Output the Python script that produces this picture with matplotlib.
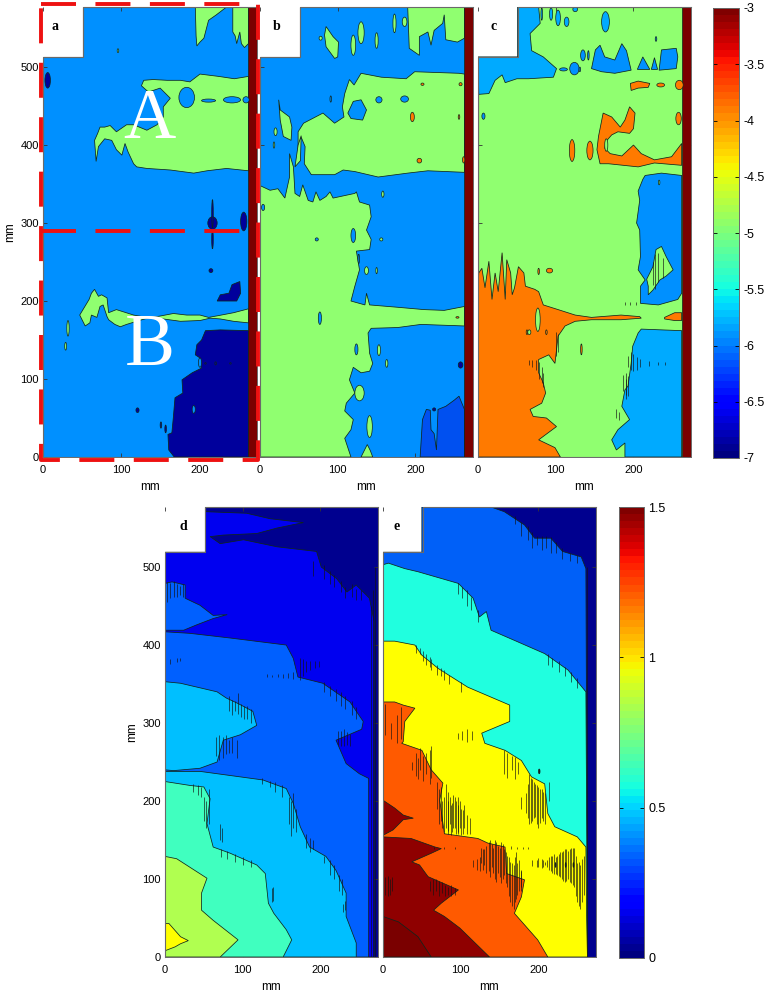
import matplotlib
matplotlib.use('Agg')
import matplotlib.pyplot as plt
from matplotlib.patches import Polygon, Ellipse
from matplotlib.cm import ScalarMappable
from matplotlib.colors import Normalize

plt.rcParams['font.family'] = ['Liberation Sans', 'DejaVu Sans']

xticks = [0, 100, 200]
yticks = [0, 100, 200, 300, 400, 500]
bar_ticks_top = [-7, -6.5, -6, -5.5, -5, -4.5, -4, -3.5, -3]
bar_labels_top = ['-7', '-6.5', '-6', '-5.5', '-5', '-4.5', '-4', '-3.5', '-3']
bar_ticks_low = [0, 0.5, 1, 1.5]
bar_labels_low = ['0', '0.5', '1', '1.5']

# ---- panel a
a_green_top1 = [(195,577),(196,540),(197,527),(201,532),(206,537),(212,560),(222,567),(235,577)]
a_green_top2 = [(243,577),(243,545),(246,540),(248,530),(252,545),(254,530),(258,525),(263,530),(263,577)]
a_green_main = [(263,488),(245,485),(225,488),(201,491),(188,481),(176,483),(159,483),(141,484),(129,483),
                (126,476),(135,468),(150,473),(163,460),(154,449),(154,436),(146,426),(133,419),(116,426),
                (107,426),(94,417),(90,421),(86,425),(79,423),(73,423),(70,415),(66,406),(68,379),(71,398),
                (79,408),(88,406),(94,394),(101,387),(105,402),(109,391),(116,376),(120,372),(133,370),
                (163,368),(193,364),(210,367),(235,370),(263,367)]
a_green_low = [(263,190),(244,185),(223,181),(212,179),(201,182),(184,182),(167,184),(146,180),(133,179),
               (116,182),(94,189),(84,185),(82,204),(75,208),(71,206),(66,215),(62,210),(59,202),(47,182),
               (54,168),(60,172),(62,182),(69,179),(73,193),(77,195),(82,180),(84,176),(92,170),(99,167),
               (107,170),(120,174),(137,179),(154,177),(176,174),(201,175),(214,178),(227,177),(244,174),(263,172)]
a_dark_patch = [(223,200),(227,208),(238,210),(242,221),(252,225),(253,210),(248,200)]
a_dark_low = [(263,162),(227,163),(208,162),(203,150),(197,144),(195,131),(201,127),(201,120),(203,114),
              (191,108),(178,99),(179,82),(169,76),(167,52),(165,31),(160,29),(161,9),(168,0),(263,0)]
a_blue_blobs = [[184,461,10,13],[212,457,9,2],[242,458,11,4],[260,458,4,4],[201,121,2,6],[193,61,2,5]]
a_green_blobs = [[32,165,1.5,10],[29,142,1.2,5],[96,521,1,2.5]]
a_dark_blobs = [[6,483,3.5,10],[217,300,6,8],[217,312,1,18],[257,302,4,12],[217,279,1,12],[215,239,2.5,2.5],
                [121,60,2,3],[151,41,1,4],[157,36,1,5],[208,120,1,1],[221,120,1,2],[240,120,1,1]]

# ---- panel b
b_green_low = [(0,348),(13,342),(23,344),(32,332),(38,359),(38,389),(43,372),(45,338),(51,334),(55,349),(62,329),
               (68,327),(72,340),(77,329),(85,334),(90,340),(94,332),(122,338),(124,340),(128,327),(141,323),
               (143,308),(137,291),(143,279),(141,266),(124,264),(128,240),(122,219),(117,200),(135,195),
               (137,210),(141,195),(177,192),(211,189),(237,188),(263,193),(263,168),(207,170),(177,166),
               (143,165),(139,159),(141,133),(145,120),(141,110),(130,108),(120,115),(115,99),(122,82),
               (111,69),(109,59),(120,48),(117,35),(109,24),(117,0),(0,0)]
b_green_low2 = [(130,0),(134,8),(138,16),(142,8),(145,0)]
b_green_band = [(263,491),(256,492),(199,494),(188,485),(156,487),(130,492),(121,477),(115,484),(109,466),(106,449),
                (108,436),(96,428),(81,441),(56,428),(49,417),(49,394),(53,410),(58,398),(57,376),(66,362),
                (96,362),(107,368),(122,366),(152,359),(190,364),(216,367),(263,365)]
b_green_left = [(24,458),(26,445),(38,436),(41,423),(40,406),(30,411),(26,432)]
b_green_left2 = [(45,372),(49,400),(53,412),(52,380)]
b_blue_hole = [(117,434),(113,441),(120,456),(130,458),(137,445),(132,432)]
b_green_top = [(190,577),(192,524),(205,515),(205,539),(216,545),(220,528),(224,547),(235,556),(237,567),
               (239,535),(254,532),(263,537),(263,577)]
b_green_top2 = [(83,541),(85,552),(94,539),(101,532),(100,513),(96,511),(85,526)]
b_dark_patch = [(206,0),(209,48),(214,61),(219,60),(220,35),(224,30),(227,9),(229,61),(239,65),(250,73),
                (256,78),(263,61),(263,0)]
b_green_blobs = [[130,544,4,14],[120,528,3,13],[150,534,2,10],[173,556,2,12],[186,558,3,6],[78,537,2,2.5],
                 [141,39,3.5,14],[128,82,6,10],[137,239,2.5,5],[150,239,1,4],[153,137,2,7],[163,120,1.5,5],
                 [158,337,1.5,4],[156,279,2,2],[20,417,2,5],[18,400,1,4]]
b_blue_blobs = [[153,458,4,4],[186,459,5,4],[91,459,1,4],[124,138,2,7],[77,178,2,8],[73,279,2,2],[4,320,2,4],
                [120,284,3,9],[127,254,1,6]]
b_orange_blobs = [[196,436,2.5,6],[205,380,3,3],[258,478,2,2],[209,478,2,1.5],[256,436,1,3],[262,381,1.5,4],[254,179,2,1]]
b_dark_blobs = [[258,118,3,4],[224,61,2,2]]

# ---- panel c
c_blue_corner = [(51,513),(51,577),(78,577),(80,556),(67,543),(69,521),(84,513),(101,498),(97,487),(65,485),
                 (50,485),(35,480),(31,490),(22,483),(14,466),(1,465),(0,513)]
c_blue_b1 = [(146,498),(151,522),(157,528),(163,513),(176,509),(185,530),(191,521),(197,496),(176,492),(159,494)]
c_blue_b2 = [(205,497),(212,513),(221,497)]
c_blue_b3 = [(223,497),(227,512),(231,497)]
c_blue_b4 = [(233,496),(236,522),(255,524),(257,513),(255,498)]
c_blue_mid = [(215,361),(236,364),(262,361),(262,210),(257,202),(232,195),(209,197),(209,219),(215,227),(206,240),
              (209,257),(208,291),(204,300),(208,329),(206,341),(212,356)]
c_blue_low = [(210,164),(262,162),(262,0),(189,0),(189,18),(178,9),(172,22),(180,35),(195,48),(185,65),(189,86),
              (193,91),(197,120),(199,142),(206,159)]
c_green_isle = [(219,219),(217,228),(225,244),(229,266),(236,270),(242,257),(251,240),(242,232),(234,227),(225,214),(219,208)]
c_orange_up = [(196,479),(206,482),(221,479),(219,474),(206,473),(197,470)]
c_orange_main = [(161,441),(172,436),(183,423),(189,432),(195,449),(202,441),(200,421),(195,415),(180,417),(172,413),
                 (165,405),(163,396),(170,389),(185,386),(200,400),(210,389),(227,381),(249,385),(262,402),
                 (262,374),(227,377),(206,372),(168,376),(157,376),(153,394),(155,411)]
c_orange_low = [(0,217),(1,236),(5,242),(9,217),(14,251),(18,202),(22,236),(26,212),(31,262),(35,202),(37,253),(42,236),
                (44,208),(47,217),(52,244),(59,236),(61,219),(73,215),(78,212),(84,195),(103,189),(125,182),(146,179),
                (184,182),(208,180),(210,178),(184,176),(146,176),(125,174),(112,168),(103,155),(99,120),(91,131),
                (78,125),(78,108),(84,95),(87,82),(82,69),(67,61),(71,52),(88,50),(101,39),(78,22),(99,12),(106,0),(0,0)]
c_orange_right = [(240,179),(253,185),(262,185),(262,175),(253,175),(240,177)]
c_corner_blobs = [[103,563,3,10],[114,558,3,6],[94,568,2,8],[82,568,1,8],[125,574,3,3],[164,558,5,13]]
c_blue_blobs = [[124,498,6,8],[135,515,3,7],[110,497,5,2],[229,536,1,3],[7,437,2,4],[142,515,1,6],[131,497,1,3]]
c_orange_blobs = [[235,477,5,2.5],[259,477,5,6],[258,434,3.5,8],[144,393,4,12],[121,393,3.5,14],[92,239,4,3],[78,238,1,4],
                  [133,138,1,7],[63,160,1,3],[88,160,1,3]]
c_green_blobs = [[77,176,3,15],[233,352,1,3],[66,160,2,3],[165,400,2,8]]

# ---- panel d
d_l1 = [(52,571),(105,569),(135,562),(178,557),(144,550),(118,543),(75,541),(58,539),(71,530),(101,535),(144,526),
        (195,520),(201,500),(221,485),(234,468),(246,477),(263,460),(269,430),(269,0),(0,0),(0,519),(52,519)]
d_l2_up = [(0,479),(9,481),(26,477),(26,460),(45,451),(62,438),(80,439),(62,434),(41,426),(24,419),(0,419)]
d_l2 = [(0,417),(32,415),(84,409),(156,400),(165,383),(171,359),(203,351),(238,327),(255,302),(253,292),(220,278),
        (233,248),(250,235),(262,229),(262,0),(0,0)]
d_l3_up = [(0,353),(20,351),(67,340),(79,332),(94,325),(113,315),(118,297),(97,285),(75,278),(67,250),(45,242),(11,239),(0,240)]
d_l3 = [(0,238),(45,238),(126,227),(156,216),(165,197),(174,167),(186,141),(207,129),(220,111),(233,82),(233,52),
        (246,18),(246,0),(0,0)]
d_l4 = [(0,225),(32,220),(50,218),(58,203),(54,171),(62,141),(84,133),(118,118),(129,107),(133,69),(140,56),(156,35),
        (163,22),(152,0),(0,0)]
d_l5 = [(0,129),(15,126),(54,101),(47,82),(47,60),(62,47),(94,22),(71,0),(0,0)]
d_l6 = [(0,43),(5,43),(20,26),(30,21),(20,17),(13,13),(0,8)]
d_noise = [[3,455,481],[7,460,480],[11,462,482],[15,462,478],[19,464,476],[23,462,478],[174,355,383],[178,360,382],
           [182,365,380],[187,368,380],[193,370,380],[198,372,380],[131,359,363],[138,359,362],[146,359,363],
           [152,358,363],[158,358,364],[165,357,366],[7,376,382],[15,378,384],[19,379,384],[82,315,335],[86,310,330],
           [90,315,328],[94,312,338],[98,308,325],[102,305,322],[106,305,322],[110,300,318],[222,272,290],[226,270,290],
           [230,270,292],[234,272,288],[238,270,286],[66,258,282],[70,252,285],[74,255,282],[78,260,285],[82,262,278],
           [86,262,282],[92,255,278],[50,175,205],[53,165,200],[56,170,215],[71,150,170],[73,148,165],[160,170,205],
           [162,155,200],[165,165,210],[168,160,190],[182,140,158],[186,135,152],[190,138,150],[137,70,88],[139,72,90],
           [229,58,68],[232,60,72],[191,488,508],[265,0,450],[268,0,470],[270,0,500],
           [205,485,502],[212,478,495],[218,475,490],[226,468,482],[232,460,475],[240,462,478],[246,458,472],[252,458,470],
           [205,340,352],[212,335,348],[220,328,344],[226,322,340],[232,318,335],[240,310,328],[246,305,320],
           [36,212,222],[42,208,220],[46,205,218],[125,222,230],[135,218,226],[142,212,224],[150,205,220],
           [205,120,130],[212,105,125],[218,100,118],[224,85,105],[228,80,100],[72,128,138],[80,126,136],[90,122,132],
           [100,118,128],[110,115,125]]

# ---- panel e
e_l1 = [(50,577),(139,577),(156,571),(182,554),(195,537),(216,537),(231,520),(255,513),(261,498),(263,0),(0,0),(0,519),(50,519)]
e_l2 = [(0,503),(7,505),(28,498),(45,494),(97,479),(116,460),(124,436),(133,443),(139,419),(169,406),(208,389),(238,368),
        (261,340),(263,0),(0,0)]
e_l3 = [(0,405),(15,405),(41,400),(50,387),(71,370),(109,346),(163,323),(163,302),(127,287),(131,274),(157,265),(178,252),
        (191,231),(208,222),(212,184),(221,167),(250,154),(261,141),(262,47),(263,0),(0,0)]
e_l4 = [(0,327),(15,327),(26,323),(41,319),(28,302),(26,276),(24,274),(50,265),(62,240),(77,223),(73,201),(79,158),
        (122,152),(135,146),(157,141),(159,107),(182,99),(178,77),(169,56),(199,22),(212,0),(0,0)]
e_l5_up = [(0,201),(15,191),(26,182),(39,178),(26,176),(13,163),(0,156)]
e_l5 = [(0,154),(36,152),(67,141),(75,139),(62,133),(37,122),(47,118),(58,103),(97,86),(75,69),(65,60),(79,52),(99,37),
        (137,0),(0,0)]
e_l6 = [(0,52),(20,45),(45,26),(62,0),(0,0)]
e_noise = [[37,240,250],[42,232,262],[45,228,255],[48,240,268],[52,226,258],[55,235,262],[60,222,265],[62,230,270],
           [70,190,225],[74,175,218],[78,160,205],[81,165,222],[84,162,200],[87,156,195],[90,165,208],[94,158,200],
           [97,160,205],[100,156,190],[104,165,195],[108,158,182],[112,158,178],[126,120,140],[130,118,138],[136,110,148],
           [140,115,145],[144,100,150],[148,108,142],[152,95,148],[156,105,138],[160,90,130],[164,70,122],[168,62,118],
           [171,75,135],[175,85,125],[178,90,112],[116,115,125],[121,112,126],[125,110,128],[192,117,125],[198,115,124],
           [204,114,126],[208,118,122],[214,112,128],[218,108,130],[222,106,128],[226,104,132],[230,100,135],[234,96,138],
           [238,100,136],[242,95,140],[246,90,140],[250,70,120],[254,62,118],[258,80,130],[178,190,205],[184,185,210],
           [188,170,235],[192,175,228],[196,180,222],[200,165,218],[204,178,215],[208,170,210],[214,200,225],[156,235,265],
           [160,230,262],[166,240,258],[170,228,256],[174,235,250],[3,80,102],[6,78,104],[9,80,100],[12,85,103],[60,85,98],
           [64,80,100],[68,85,100],[72,78,98],[76,82,96],[80,78,92],[84,80,90],[88,78,92],[92,80,88],[42,390,400],
           [47,388,396],[52,380,392],[60,372,385],[75,360,370],[100,340,352],[96,280,287],[102,278,290],[108,276,292],
           [114,278,290],[3,285,325],[10,280,300],[18,275,310],[23,280,320],[263,0,500],
           [72,170,215],[76,165,200],[83,158,212],[86,170,205],[89,160,198],[92,165,205],[96,158,195],[99,165,200],[103,158,188],
           [128,112,138],[133,108,142],[138,102,150],[142,108,140],[146,96,148],[150,102,140],[154,100,145],[158,95,135],
           [162,78,128],[166,65,120],[170,70,128],[173,80,120],[177,84,110],[200,115,127],[206,115,125],[211,116,124],
           [216,110,130],[220,106,132],[224,105,130],[228,102,134],[232,98,136],[236,98,138],[240,96,138],[244,92,140],
           [248,78,130],[252,66,122],[256,70,126],[186,178,222],[190,172,230],[194,178,225],[198,170,220],[202,172,216],
           [206,175,212],[66,138,141],[78,138,141],[92,138,141],[165,138,142],[172,138,141],[180,139,141],[186,139,141],
           [170,555,565],[178,540,558],[186,535,552],[192,525,545],[198,528,540],[204,522,540],[210,525,540],[216,518,538],
           [222,518,532],[230,510,524],[240,508,518],[250,505,516],[97,465,480],[102,460,475],[108,450,470],[113,445,462],
           [122,430,445],[212,375,388],[218,372,384],[226,365,380],[234,360,372],[242,352,366],[250,345,358],[55,375,388],
           [62,368,382],[70,362,375],[78,355,368],[85,350,362]]
e_dark_blobs = [[201,238,1,3],[222,118,0.6,3],[235,118,0.6,3],[245,118,0.6,3]]

c_noise = [[193,115,130],[197,112,135],[200,110,132],[204,112,128],[208,115,126],[220,117,123],[231,118,122],[240,118,122],
           [187,85,105],[190,80,108],[193,78,104],[191,75,100],[65,118,125],[70,115,125],[74,112,124],[78,100,122],
           [82,95,115],[84,90,108],[178,50,62],[181,48,58],[100,130,160],[103,135,158],[225,220,250],[228,215,260],
           [232,225,262],[238,230,255],[189,195,199],[196,195,199],[203,195,199]]

BLUE = '#0090FF'
SKY = '#00AAFF'
GREEN = '#90FF70'
NAVY = '#00009C'
MAROON = '#7A0000'
ORANGE = '#FF7A00'
EDGE = '#10251c'
FRAME = '#6a6a6a'


def make_axes(fig, x0, y0, x1, y1):
    # position in pixels of the 766x992 picture
    ax = fig.add_axes([x0/766, 1-y1/992, (x1-x0)/766, (y1-y0)/992])
    ax.set_xlim(0, 274)
    ax.set_ylim(0, 577)
    ax.set_xticks(xticks)
    ax.set_yticks(yticks)
    ax.tick_params(direction='in', length=3, width=0.6, color='#333333', top=True, right=True, labelsize=8, pad=3)
    ax.tick_params(axis='x', pad=6)
    ax.set_xlabel('mm', fontsize=8.5, labelpad=4)
    ax.spines['top'].set_visible(False)
    ax.spines['left'].set_visible(False)
    for s in ['bottom', 'right']:
        ax.spines[s].set_color(FRAME)
        ax.spines[s].set_linewidth(0.7)
    return ax


def fill(ax, pts, color, lw=0.55):
    ax.add_patch(Polygon(pts, closed=True, facecolor=color, edgecolor=EDGE, linewidth=lw, zorder=2))


def blobs(ax, rows, color):
    for x, y, rx, ry in rows:
        ax.add_patch(Ellipse((x, y), 2*rx, 2*ry, facecolor=color, edgecolor=EDGE, linewidth=0.5, zorder=3))


def noise(ax, rows):
    ax.vlines([r[0] for r in rows], [r[1] for r in rows], [r[2] for r in rows],
              color='#141414', linewidth=0.65, alpha=0.7, zorder=4)


def base(ax, top, notch_x, notch_y, color):
    # everything outside the stepped outline stays white
    pts = [(0, 0), (274, 0), (274, top), (notch_x, top), (notch_x, notch_y), (0, notch_y)]
    ax.add_patch(Polygon(pts, closed=True, facecolor=color, edgecolor=FRAME, linewidth=0.8, zorder=1))
    ax.plot([0, 0, notch_x, notch_x, 274], [0, notch_y, notch_y, top, top], color=FRAME, lw=0.8, zorder=6, clip_on=False)


def end_bar(ax, color):
    fill(ax, [(263, 0), (274, 0), (274, 577), (263, 577)], color, lw=0.5)


def color_bar(fig, box, vmin, vmax, ticks, labels):
    x0, y0, x1, y1 = box
    cax = fig.add_axes([x0/766, 1-y1/992, (x1-x0)/766, (y1-y0)/992])
    sm = ScalarMappable(norm=Normalize(vmin, vmax), cmap=plt.get_cmap('jet', 64))
    cb = fig.colorbar(sm, cax=cax)
    cb.set_ticks(ticks)
    cb.set_ticklabels(labels)
    cb.outline.set_edgecolor(FRAME)
    cb.outline.set_linewidth(0.7)
    cax.tick_params(direction='in', length=3, width=0.6, left=True, right=True, labelsize=9, pad=3)


fig = plt.figure(figsize=(7.66, 9.92), dpi=100)

# panel a
ax_a = make_axes(fig, 43, 7, 257, 457)
ax_a.set_zorder(5)
base(ax_a, 577, 51, 513, BLUE)
for p in [a_green_top1, a_green_top2, a_green_main, a_green_low]:
    fill(ax_a, p, GREEN)
fill(ax_a, a_dark_patch, NAVY)
fill(ax_a, a_dark_low, NAVY)
blobs(ax_a, a_blue_blobs, BLUE)
blobs(ax_a, a_green_blobs, GREEN)
blobs(ax_a, a_dark_blobs, NAVY)
end_bar(ax_a, MAROON)
ax_a.set_ylabel('mm', fontsize=8.5, labelpad=3)

# panel b
ax_b = make_axes(fig, 260, 7, 473, 457)
ax_b.set_yticklabels([])
base(ax_b, 577, 51, 513, BLUE)
for p in [b_green_low, b_green_low2, b_green_band, b_green_left, b_green_left2, b_green_top, b_green_top2]:
    fill(ax_b, p, GREEN)
fill(ax_b, b_blue_hole, BLUE)
fill(ax_b, b_dark_patch, '#0050F0')
blobs(ax_b, b_green_blobs, GREEN)
blobs(ax_b, b_blue_blobs, BLUE)
blobs(ax_b, b_orange_blobs, ORANGE)
blobs(ax_b, b_dark_blobs, NAVY)
end_bar(ax_b, MAROON)

# panel c
ax_c = make_axes(fig, 478, 7, 691, 457)
ax_c.set_yticklabels([])
base(ax_c, 577, 51, 513, GREEN)
fill(ax_c, c_blue_corner, SKY)
blobs(ax_c, c_corner_blobs, SKY)
for p in [c_blue_b1, c_blue_b2, c_blue_b3, c_blue_b4, c_blue_mid]:
    fill(ax_c, p, BLUE)
fill(ax_c, c_blue_low, SKY)
fill(ax_c, c_green_isle, GREEN)
for p in [c_orange_up, c_orange_main, c_orange_low, c_orange_right]:
    fill(ax_c, p, ORANGE)
blobs(ax_c, c_blue_blobs, BLUE)
blobs(ax_c, c_orange_blobs, ORANGE)
blobs(ax_c, c_green_blobs, GREEN)
noise(ax_c, c_noise)
end_bar(ax_c, MAROON)

# panel d
ax_d = make_axes(fig, 165, 507, 378, 957)
ax_d.set_zorder(2)
base(ax_d, 577, 51, 519, '#00008F')
fill(ax_d, d_l1, '#0000F0')
fill(ax_d, d_l2_up, '#0060FF')
fill(ax_d, d_l2, '#0060FF')
fill(ax_d, d_l3_up, '#00BFFF')
fill(ax_d, d_l3, '#00BFFF')
fill(ax_d, d_l4, '#40FFBF')
fill(ax_d, d_l5, '#B0FF50')
fill(ax_d, d_l6, '#FFFF00')
noise(ax_d, d_noise)
ax_d.set_ylabel('mm', fontsize=8.5, labelpad=3)

# panel e
ax_e = make_axes(fig, 383, 507, 596, 957)
ax_e.set_yticklabels([])
base(ax_e, 577, 51, 519, '#00008F')
fill(ax_e, e_l1, '#0060F8')
fill(ax_e, e_l2, '#20FFDF')
fill(ax_e, e_l3, '#FFFF00')
fill(ax_e, e_l4, '#FF5A00')
fill(ax_e, e_l5_up, '#8F0000')
fill(ax_e, e_l5, '#8F0000')
fill(ax_e, e_l6, '#7A0000')
blobs(ax_e, e_dark_blobs, '#1a1a1a')
noise(ax_e, e_noise)

# panel letters
for ax, letter, lx in [(ax_a, 'a', 15), (ax_b, 'b', 22), (ax_c, 'c', 20), (ax_d, 'd', 24), (ax_e, 'e', 17)]:
    ax.text(lx, 552, letter, family='Liberation Serif', weight='bold', fontsize=10, ha='center', va='center', zorder=8)

# big letters and the red dashed boxes on panel a
ax_a.text(136, 432, 'A', family='Liberation Serif', color='white', fontsize=52, ha='center', va='center', zorder=8)
ax_a.text(137, 141, 'B', family='Liberation Serif', color='white', fontsize=54, ha='center', va='center', zorder=8)
ax_a.plot([-2.5, 275, 275, -2.5, -2.5], [581, 581, -4, -4, 581], color='#EE1111', lw=2.8, linestyle=(0, (9, 5)),
          clip_on=False, zorder=9)
ax_a.plot([-2.5, 275], [290, 290], color='#EE1111', lw=2.8, linestyle=(0, (9, 5)), clip_on=False, zorder=9)

color_bar(fig, (713, 8, 739, 458), -7, -3, bar_ticks_top, bar_labels_top)
color_bar(fig, (619, 507, 644, 958), 0, 1.5, bar_ticks_low, bar_labels_low)

fig.savefig('out.png', dpi=100)
